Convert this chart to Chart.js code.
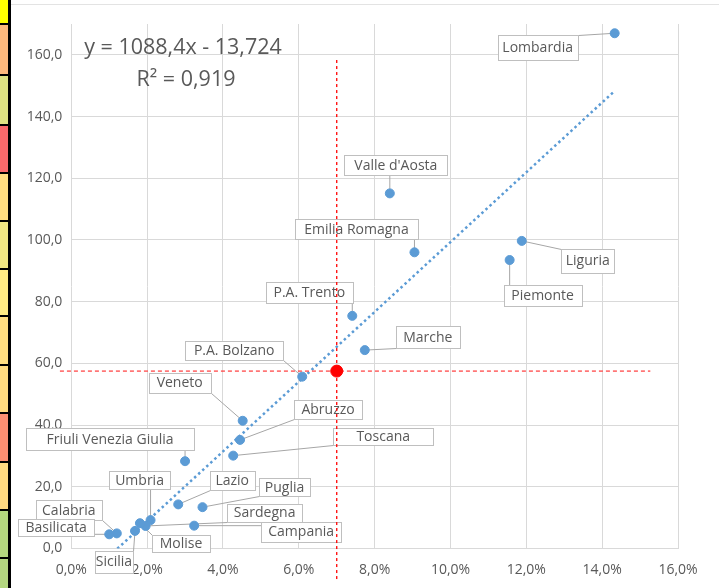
<!DOCTYPE html>
<html>
<head>
<meta charset="utf-8">
<script src="https://cdn.jsdelivr.net/npm/chart.js@4.4.1/dist/chart.umd.min.js"></script>
<style>
  html, body { margin: 0; padding: 0; background: #fff; }
  #strip { position: absolute; left: 0; top: 0; width: 8px; height: 588px; border-right: 3px solid #000; }
  #strip div { border-bottom: 2px solid #000; box-sizing: border-box; }
  #wrap { position: absolute; left: 11px; top: 0; width: 708px; height: 588px; }
  #topline { position: absolute; left: 11px; top: 4px; width: 708px; height: 1px; background: #e3e3e3; }
</style>
</head>
<body>
<div id="strip"></div>
<div id="topline"></div>
<div id="wrap"><canvas id="myChart"></canvas></div>
<script>
// dati: quota % (asse x) e valore (asse y) per regione
var regioni = ['Lombardia', "Valle d'Aosta", 'Emilia Romagna', 'Liguria', 'Piemonte', 'P.A. Trento',
  'Marche', 'P.A. Bolzano', 'Veneto', 'Abruzzo', 'Toscana', 'Friuli Venezia Giulia', 'Lazio',
  'Puglia', 'Umbria', 'Sardegna', 'Molise', 'Sicilia', 'Calabria', 'Basilicata', 'Campania'];
var quota = [14.33, 8.40, 9.05, 11.88, 11.56, 7.41, 7.74, 6.09, 4.52, 4.45, 4.27, 3.00, 2.82,
  3.46, 2.09, 1.96, 1.81, 1.68, 1.20, 1.00, 3.24];
var valore = [167.0, 115.1, 96.0, 99.7, 93.5, 75.4, 64.3, 55.7, 41.4, 35.2, 30.1, 28.3, 14.3,
  13.4, 9.2, 7.3, 8.2, 5.7, 4.9, 4.6, 7.4];

// valore Italia (punto rosso) e estensione delle linee tratteggiate
var italiaX = 7.0;
var italiaY = 57.5;
var lineaOrizX = [-0.3, 15.27];
var lineaVertY = [-9.9, 158.3];

var equazione = 'y = 1088,4x - 13,724';
var erre2 = 'R² = 0,919';

// assi
var xMin = 0, xMax = 16, xStep = 2;
var yMin = 0, yMax = 170, yStep = 20;

// posizione (centro rispetto al punto) e dimensioni dei riquadri delle etichette, in pixel
var labelOffsets = [[-77, 14], [6, -28], [-58, -23], [66, 20], [33, 35], [-43, -23],
  [63, -13], [-68, -26], [-63, -38], [88, -30], [150, -19], [-75, -22], [54, -24],
  [82, -20], [-11, -40], [119, -13], [41, 20], [-21, 31], [-48, -23], [-53, -7], [107, 6]];
var labelW = [80, 103, 123, 53, 78, 87, 64, 98, 62, 68, 100, 168, 45, 51, 61, 75, 58, 38, 66, 76, 80];
var labelH = [25, 20, 20, 24, 21, 21, 22, 19, 20, 19, 17, 22, 19, 18, 18, 18, 17, 22, 20, 17, 20];

// colori della colonna di celle a sinistra
var stripRows = [[25, '#FFFF00'], [51, '#FDB97D'], [50, '#DEE283'], [48, '#F8696B'], [48, '#FFDD81'],
  [48, '#F1E784'], [47, '#FFEB84'], [49, '#FFDD81'], [48, '#FFDA80'], [49, '#FB8F72'],
  [48, '#FFD981'], [48, '#B5D77F'], [40, '#B4D680']];

var strip = document.getElementById('strip');
stripRows.forEach(function(r){
  var d = document.createElement('div');
  d.style.height = r[0] + 'px';
  d.style.background = r[1];
  strip.appendChild(d);
});

function fmt1(v){ return v.toFixed(1).replace('.', ','); }

// retta di regressione calcolata sui dati
function regressione(xs, ys){
  var n = xs.length, mx = 0, my = 0, sxx = 0, sxy = 0;
  for (var i = 0; i < n; i++){ mx += xs[i]; my += ys[i]; }
  mx /= n; my /= n;
  for (var j = 0; j < n; j++){ sxx += (xs[j]-mx)*(xs[j]-mx); sxy += (xs[j]-mx)*(ys[j]-my); }
  var b = sxy / sxx;
  return { b: b, a: my - b*mx };
}
var reg = regressione(quota, valore);
var xLo = Math.min.apply(null, quota), xHi = Math.max.apply(null, quota);

var FONT = '"Open Sans", "Noto Sans", sans-serif';

var etichette = {
  id: 'etichette',
  beforeDatasetsDraw: function(chart){
    var ctx = chart.ctx;
    var meta = chart.getDatasetMeta(0);
    ctx.save();
    ctx.font = '14px ' + FONT;
    ctx.textAlign = 'center';
    ctx.textBaseline = 'middle';
    regioni.forEach(function(nome, i){
      var p = meta.data[i];
      var cx = p.x + labelOffsets[i][0], cy = p.y + labelOffsets[i][1];
      var w = labelW[i], h = labelH[i];
      var x0 = Math.round(cx - w/2) + 0.5, y0 = Math.round(cy - h/2) + 0.5;
      // linea guida
      var ex = Math.max(x0, Math.min(p.x, x0 + w));
      var ey = Math.max(y0, Math.min(p.y, y0 + h));
      ctx.strokeStyle = '#a6a6a6';
      ctx.lineWidth = 1;
      ctx.beginPath(); ctx.moveTo(ex, ey); ctx.lineTo(p.x, p.y); ctx.stroke();
      ctx.fillStyle = '#ffffff';
      ctx.fillRect(x0, y0, w, h);
      ctx.strokeStyle = '#bfbfbf';
      ctx.strokeRect(x0, y0, w, h);
      ctx.fillStyle = '#595959';
      ctx.fillText(nome, cx, cy + 0.5);
    });
    // equazione della tendenza (coordinate della tela)
    ctx.font = '21.5px ' + FONT;
    ctx.fillText(equazione, 172, 48);
    ctx.fillText(erre2, 175, 80);
    ctx.restore();
  }
};

var ctx = document.getElementById('myChart').getContext('2d');
var myChart = new Chart(ctx, {
  type: 'scatter',
  data: {
    datasets: [{
      label: 'Regioni',
      data: quota.map(function(x, i){ return { x: x, y: valore[i] }; }),
      backgroundColor: '#5B9BD5',
      borderColor: '#5B9BD5',
      pointRadius: 4.5,
      order: 2
    }, {
      label: 'Tendenza',
      type: 'line',
      data: [{ x: xLo, y: reg.a + reg.b*xLo }, { x: xHi, y: reg.a + reg.b*xHi }],
      borderColor: '#5B9BD5',
      borderWidth: 2.5,
      borderDash: [2.5, 3],
      pointRadius: 0,
      fill: false,
      order: 3
    }, {
      label: 'Italia x',
      type: 'line',
      data: [{ x: italiaX, y: lineaVertY[0] }, { x: italiaX, y: lineaVertY[1] }],
      borderColor: '#ff0000',
      borderWidth: 1.3,
      borderDash: [3, 3],
      pointRadius: 0,
      clip: false,
      order: 1
    }, {
      label: 'Italia y',
      type: 'line',
      data: [{ x: lineaOrizX[0], y: italiaY }, { x: lineaOrizX[1], y: italiaY }],
      borderColor: 'rgba(255, 60, 60, 0.7)',
      borderWidth: 1.8,
      borderDash: [4, 3],
      pointRadius: 0,
      clip: false,
      order: 1
    }, {
      label: 'Italia',
      data: [{ x: italiaX, y: italiaY }],
      backgroundColor: '#ff0000',
      borderColor: '#ff0000',
      pointRadius: 6,
      order: 0
    }]
  },
  options: {
    responsive: true,
    maintainAspectRatio: false,
    animation: false,
    layout: { padding: { top: 24, right: 41, left: 0, bottom: 0 } },
    plugins: { legend: { display: false }, tooltip: { enabled: false } },
    scales: {
      x: {
        type: 'linear', min: xMin, max: xMax,
        ticks: { stepSize: xStep, padding: 13, color: '#595959', font: { family: FONT, size: 14 },
          callback: function(v){ return fmt1(v) + '%'; } },
        grid: { color: '#d9d9d9', drawTicks: false },
        border: { display: false },
        afterFit: function(s){ s.height = 39.5; }
      },
      y: {
        type: 'linear', min: yMin, max: yMax,
        ticks: { stepSize: yStep, includeBounds: false, padding: 9, color: '#595959',
          font: { family: FONT, size: 14 }, callback: function(v){ return fmt1(v); } },
        grid: { color: '#d9d9d9', drawTicks: false },
        border: { display: false },
        afterFit: function(s){ s.width = 60.3; }
      }
    }
  },
  plugins: [etichette]
});
</script>
</body>
</html>
